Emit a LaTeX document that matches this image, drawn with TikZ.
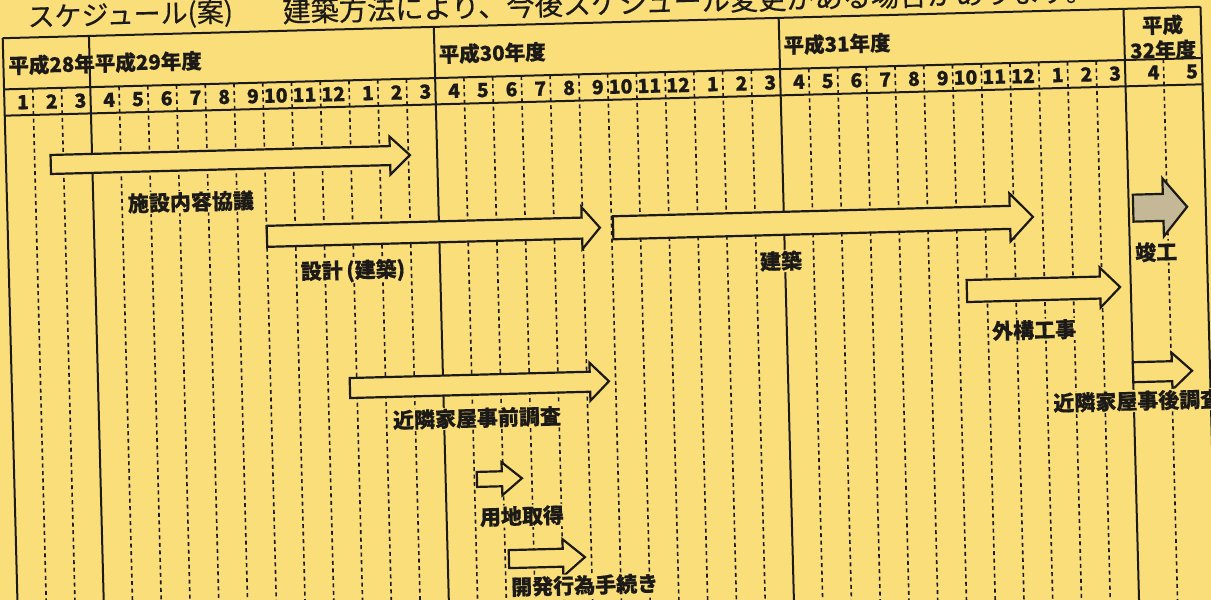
\documentclass[tikz,border=0pt]{standalone}
\usepackage{fontspec}
\setmainfont{Noto Sans CJK JP}[BoldFeatures={FakeBold=0.6}]
\newfontfamily\headfont{Noto Sans CJK JP}[FakeBold=0.4]
\usepackage{tikz}
\definecolor{paper}{RGB}{250,222,122}
\definecolor{ink}{RGB}{28,26,24}
\definecolor{stipple}{RGB}{196,184,150}
\tikzset{
  rule/.style={draw=ink, line width=2pt},
  monthsep/.style={draw=ink, line width=1.6pt, dash pattern=on 4pt off 3.5pt},
  barrow/.style={draw=ink, line width=2.2pt, fill=paper, line join=miter},
  heading/.style={font=\headfont\fontsize{27}{29}\selectfont, text=ink, inner sep=0pt},
  yearlbl/.style={font=\fontsize{20.5}{25}\selectfont\bfseries, text=ink, inner sep=0pt},
  monlbl/.style={font=\fontsize{19.5}{20}\selectfont\bfseries, text=ink, inner sep=0pt},
  tasklbl/.style={font=\fontsize{21}{22}\selectfont\bfseries, text=ink, fill=paper, inner sep=1pt}
}
\begin{document}
\begin{tikzpicture}[x=1pt,y=-1pt]
\fill[paper] (0,0) rectangle (1211,600);
\useasboundingbox (0,0) rectangle (1211,600);
\clip (0,0) rectangle (1211,600);

\begin{scope}[rotate around={1.5:(605.5,300)}, transform shape]

\node[heading, anchor=west] (title) at (35,3) {スケジュール(案)};
\node[heading, anchor=west, font=\headfont\fontsize{28.2}{29}\selectfont] (remark) at (290,3) {建築方法により、今後スケジュール変更がある場合があります。};

% frame
\draw[rule] (9.75,22.5) -- (1208,22.5);
\draw[rule] (9.75,73.7) -- (1208,73.7);
\draw[rule] (9.75,100) -- (1208,100);
\foreach \x in {9.75,96,441,786,1131,1208}
{  \draw[rule] (\x,22.5) -- (\x,640);  }

% months
\foreach \k in {1,2,4,5,...,14,16,17,...,26,28,29,...,38}
{  \draw[monthsep] ({9.75+28.75*\k},73.7) -- ({9.75+28.75*\k},640);  }
\draw[monthsep] (1169.5,73.7) -- (1169.5,640);

\foreach \k in {0,...,38}
{ \pgfmathtruncatemacro\m{mod(\k,12)+1}
  \node[monlbl, anchor=east] (m\k) at ({9.75+28.75*(\k+1)-4},87) {\m}; }
\node[monlbl, anchor=east] (m39) at (1165.5,87) {4};
\node[monlbl, anchor=east] (m40) at (1204,87) {5};

% years
\node[yearlbl, anchor=west] (h28) at (14.5,50) {平成28年};
\node[yearlbl, anchor=west] (h29) at (101,50) {平成29年度};
\node[yearlbl, anchor=west] (h30) at (445,50) {平成30年度};
\node[yearlbl, anchor=west] (h31) at (790,50) {平成31年度};
\node[yearlbl, align=center] (h32) at (1169.5,52) {平成\\32年度};

% arrows: tail / tip / centre / body half / head half / head length
\foreach \xa/\xb/\yc/\bh/\hh/\hl in {54.5/413.8/150/9.5/19/20, 268.7/601.8/227.5/10.5/21/18,
  615/1035/228/11.5/24/23, 967/1120.3/300.5/11/20/20, 347.7/606.8/381.3/10/19/19,
  472.3/517.3/476/7.5/16.5/20, 502.2/578.2/556.5/9/18.5/22, 1131/1190/386/10/18.5/20}
{ \draw[barrow] (\xa,\yc-\bh) -- (\xb-\hl,\yc-\bh) -- (\xb-\hl,\yc-\hh) -- (\xb,\yc)
    -- (\xb-\hl,\yc+\hh) -- (\xb-\hl,\yc+\bh) -- (\xa,\yc+\bh) -- cycle; }
\draw[barrow, fill=stipple] (1135.4,208.5) -- (1165.4,208.5) -- (1165.4,193) -- (1189.4,222)
  -- (1165.4,251) -- (1165.4,235.5) -- (1135.4,235.5) -- cycle;

% tasks
\node[tasklbl] (kyogi) at (193.6,191.1) {施設内容協議};
\node[tasklbl] (sekkei) at (353.8,264.4) {設計\,(建築)};
\node[tasklbl] (kenchiku) at (782,265.6) {建築};
\node[tasklbl] (shunko) at (1157.3,266.4) {竣工};
\node[tasklbl] (gaiko) at (1033.2,341.2) {外構工事};
\node[tasklbl] (jizen) at (473.9,414.6) {近隣家屋事前調査};
\node[tasklbl, anchor=west] (jigo) at (1049.3,414.7) {近隣家屋事後調査};
\node[tasklbl] (yochi) at (516.3,513.8) {用地取得};
\node[tasklbl, anchor=west] (kaihatsu) at (502.5,584.5) {開発行為手続き};

\end{scope}
\end{tikzpicture}
\end{document}
